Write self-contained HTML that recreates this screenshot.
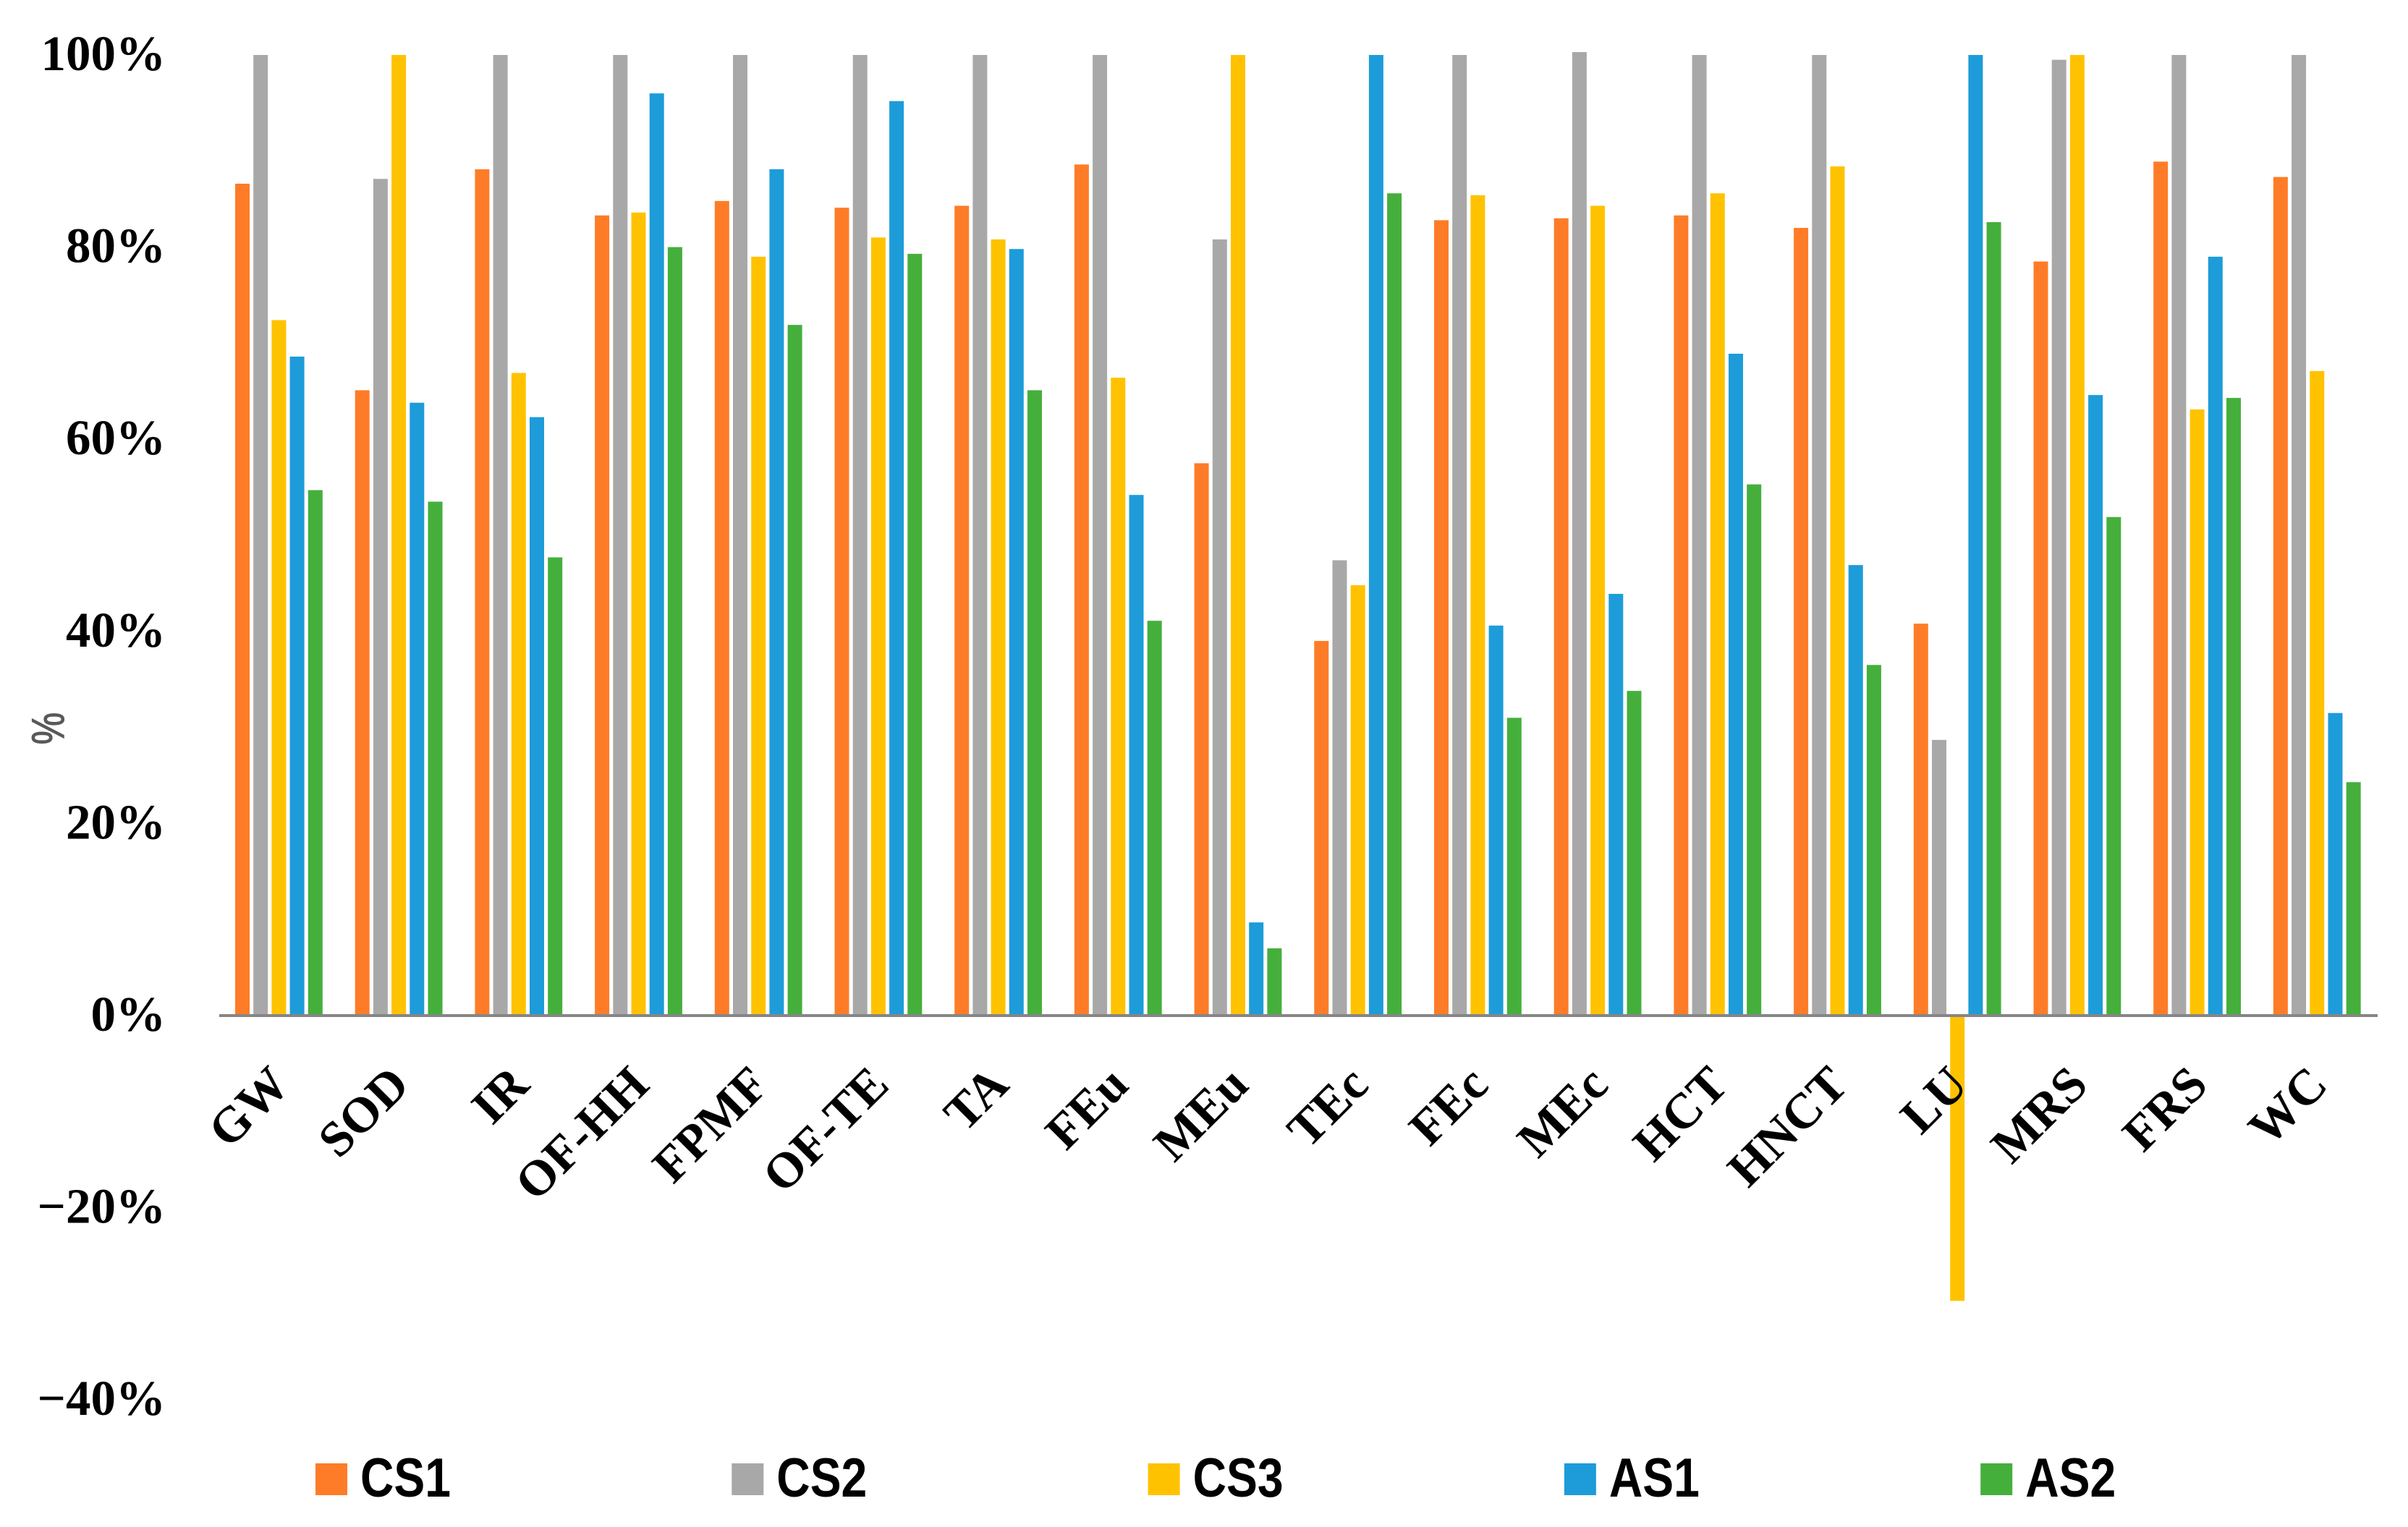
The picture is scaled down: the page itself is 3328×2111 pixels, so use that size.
<!DOCTYPE html>
<html lang="en">
<head>
<meta charset="utf-8">
<title>Percent change by indicator and scenario</title>
<style>
html,body{margin:0;padding:0;background:#fff;width:3328px;height:2111px;overflow:hidden}
svg{display:block}
.ytick{font-family:"Liberation Serif",serif;font-weight:bold;font-size:69px;fill:#000;text-anchor:end}
.xtick{font-family:"Liberation Serif",serif;font-weight:bold;font-size:69px;fill:#000;text-anchor:end}
.legend-text{font-family:"Liberation Sans",sans-serif;font-weight:bold;font-size:76px;fill:#000}
</style>
</head>
<body>
<svg id="chart" xmlns="http://www.w3.org/2000/svg" width="3328" height="2111" viewBox="0 0 3328 2111">
  <rect x="0" y="0" width="3328" height="2111" fill="#ffffff"/>
  <g id="bars"></g>
  <line x1="303" x2="3286" y1="1404" y2="1404" stroke="#868686" stroke-width="4"/>
  <g id="yticks"></g>
  <g id="xticks"></g>
  <text transform="translate(88,1007) rotate(-90) scale(1,1.27)" text-anchor="middle" font-family="'Liberation Sans',sans-serif" font-size="50" fill="#595959" stroke="#595959" stroke-width="1">%</text>
  <g id="legend"></g>
</svg>
<script>
const categories = ["GW","SOD","IR","OF-HH","FPMF","OF-TE","TA","FEu","MEu","TEc","FEc","MEc","HCT","HNCT","LU","MRS","FRS","WC"];
const seriesNames = ["CS1","CS2","CS3","AS1","AS2"];
const seriesColors = ["#FE7C27","#A8A8A8","#FFC200","#1D9CD9","#45AF3C"];
const cs1 = [86.6,65.1,88.1,83.3,84.8,84.1,84.3,88.6,57.5,39.0,82.8,83.0,83.3,82.0,40.8,78.5,88.9,87.3];
const cs2 = [100,87.1,100,100,100,100,100,100,80.8,47.4,100,100.3,100,100,28.7,99.5,100,100];
const cs3 = [72.4,100,66.9,83.6,79.0,81.0,80.8,66.4,100,44.8,85.4,84.3,85.6,88.4,-29.7,100,63.1,67.1];
const as1 = [68.6,63.8,62.3,96.0,88.1,95.2,79.8,54.2,9.7,100,40.6,43.9,68.9,46.9,100,64.6,79.0,31.5];
const as2 = [54.7,53.5,47.7,80.0,71.9,79.3,65.1,41.1,7.0,85.6,31.0,33.8,55.3,36.5,82.6,51.9,64.3,24.3];
const seriesValues = [cs1,cs2,cs3,as1,as2];
const yTickValues = [100,80,60,40,20,0,-20,-40];
const yTickLabels = ["100%","80%","60%","40%","20%","0%","\u221220%","\u221240%"];

const NS = "http://www.w3.org/2000/svg";
function yScale(v){ return 1404 - v * 13.28; }
function groupX(c){ return 325 + c * 165.7; }
function barX(c, s){ return groupX(c) + s * 25.2; }
const barWidth = 20;

const barsG = document.getElementById("bars");
seriesValues.forEach(function(vals, s){
  vals.forEach(function(v, c){
    const r = document.createElementNS(NS, "rect");
    const top = Math.min(yScale(v), yScale(0));
    r.setAttribute("x", barX(c, s));
    r.setAttribute("y", top);
    r.setAttribute("width", barWidth);
    r.setAttribute("height", Math.abs(yScale(v) - yScale(0)));
    r.setAttribute("fill", seriesColors[s]);
    
    
    barsG.appendChild(r);
  });
});

const yG = document.getElementById("yticks");
yTickValues.forEach(function(v, i){
  const t = document.createElementNS(NS, "text");
  t.setAttribute("class", "ytick");
  t.setAttribute("x", 229);
  t.setAttribute("y", yScale(v) + 21);
  t.textContent = yTickLabels[i];
  
  
  yG.appendChild(t);
});

const xG = document.getElementById("xticks");
categories.forEach(function(name, c){
  const t = document.createElementNS(NS, "text");
  const ax = groupX(c) + 60 + 18;
  const ay = 1503;
  t.setAttribute("class", "xtick");
  t.setAttribute("transform", "translate(" + ax + "," + ay + ") rotate(-45)");
  t.textContent = name;
  
  
  xG.appendChild(t);
});

const lG = document.getElementById("legend");
seriesNames.forEach(function(name, s){
  const lx = 436 + s * 575.3;
  const sw = document.createElementNS(NS, "rect");
  sw.setAttribute("x", lx);
  sw.setAttribute("y", 2023);
  sw.setAttribute("width", 44);
  sw.setAttribute("height", 44);
  sw.setAttribute("fill", seriesColors[s]);
  
  
  lG.appendChild(sw);
  const t = document.createElementNS(NS, "text");
  t.setAttribute("class", "legend-text");
  t.setAttribute("x", lx + 62);
  t.setAttribute("y", 2069);
  t.setAttribute("textLength", 125);
  t.setAttribute("lengthAdjust", "spacingAndGlyphs");
  t.textContent = name;
  
  
  lG.appendChild(t);
});
</script>
</body>
</html>
